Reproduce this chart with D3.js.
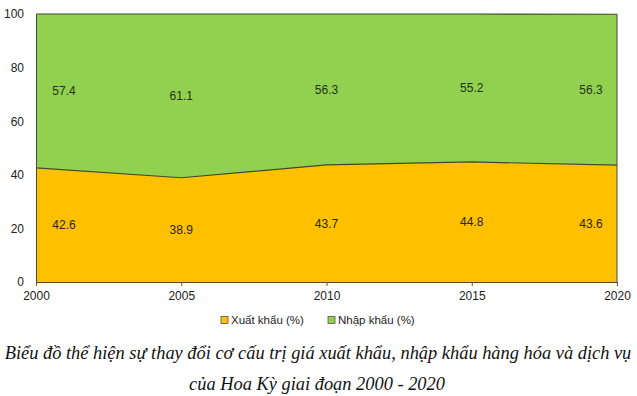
<!DOCTYPE html>
<html>
<head>
<meta charset="utf-8">
<script src="https://cdn.jsdelivr.net/npm/d3@7"></script>
<style>
  body { margin: 0; background: #fff; }
  svg text { font-family: "Liberation Sans", Arial, sans-serif; }
  .caption { font-family: "Liberation Serif", "Times New Roman", serif !important; font-style: italic; font-size: 18.4px; fill: #111; }
</style>
</head>
<body>
<svg id="chart" width="637" height="396"></svg>
<script>
'use strict';
// chart data
const years = [2000, 2005, 2010, 2015, 2020];
const exportShare = [42.6, 38.9, 43.7, 44.8, 43.6];
const importShare = [57.4, 61.1, 56.3, 55.2, 56.3];
const yTicks = [0, 20, 40, 60, 80, 100];
const seriesNames = ['Xuất khẩu (%)', 'Nhập khẩu (%)'];
const colors = ['#FFC000', '#92D050'];

const svg = d3.select('#chart');
const plot = { left: 36, right: 617, top: 14, bottom: 282 };

const x = d3.scaleLinear().domain([2000, 2020]).range([plot.left, plot.right]);
const y = d3.scaleLinear().domain([0, 100]).range([plot.bottom, plot.top]);

const rows = years.map((yr, i) => ({ year: yr, exp: exportShare[i], imp: importShare[i] }));
const stacked = d3.stack().keys(['exp', 'imp'])(rows);

const area = d3.area()
    .x(d => x(d.data.year))
    .y0(d => y(d[0]))
    .y1(d => y(d[1]));

svg.append('g')
    .selectAll('path')
    .data(stacked)
    .enter()
    .append('path')
    .attr('d', area)
    .attr('fill', (d, i) => colors[i]);

// boundary lines (top of each layer)
const topLine = d3.line().x(d => x(d.data.year)).y(d => y(d[1]));
svg.append('g')
    .selectAll('path')
    .data(stacked)
    .enter()
    .append('path')
    .attr('d', topLine)
    .attr('fill', 'none')
    .attr('stroke', '#3d4a2a')
    .attr('stroke-width', 1.2);

// right edge
svg.append('line')
    .attr('x1', plot.right).attr('x2', plot.right)
    .attr('y1', y(0)).attr('y2', y(100))
    .attr('stroke', '#4a4a3a');

// x axis
const xAxis = svg.append('g')
    .attr('transform', 'translate(0,' + plot.bottom + ')')
    .call(d3.axisBottom(x).tickValues(years).tickFormat(d3.format('d')).tickSizeOuter(0).tickSize(4));
xAxis.select('.domain').attr('stroke', '#5a4a20');
xAxis.selectAll('.tick line').attr('stroke', '#555');
xAxis.selectAll('text').attr('font-size', 12).attr('fill', '#222').attr('dy', '0.9em')
    .attr('font-family', '"Liberation Sans", Arial, sans-serif');

// y axis
const yAxis = svg.append('g')
    .attr('transform', 'translate(' + plot.left + ',0)')
    .call(d3.axisLeft(y).tickValues(yTicks).tickSize(0).tickPadding(12));
yAxis.select('.domain').attr('stroke', '#4a4a3a');
yAxis.selectAll('text').attr('font-size', 12).attr('fill', '#222')
    .attr('font-family', '"Liberation Sans", Arial, sans-serif');

// data labels
const labelX = (yr) => yr === 2000 ? x(yr) + 28 : yr === 2020 ? x(yr) - 26 : x(yr);
svg.append('g')
    .selectAll('text')
    .data(rows)
    .enter()
    .append('text')
    .attr('x', d => labelX(d.year))
    .attr('y', d => y(d.exp / 2))
    .attr('dy', '0.35em')
    .attr('text-anchor', 'middle')
    .attr('font-size', 12)
    .attr('fill', '#2a2410')
    .text(d => d.exp.toFixed(1));

svg.append('g')
    .selectAll('text')
    .data(rows)
    .enter()
    .append('text')
    .attr('x', d => labelX(d.year))
    .attr('y', d => y(d.exp + d.imp / 2))
    .attr('dy', '0.35em')
    .attr('text-anchor', 'middle')
    .attr('font-size', 12)
    .attr('fill', '#1e3310')
    .text(d => d.imp.toFixed(1));

// legend
const legendX = [221, 328];
const legend = svg.append('g')
    .selectAll('g')
    .data(seriesNames)
    .enter()
    .append('g')
    .attr('transform', (d, i) => 'translate(' + legendX[i] + ',320)');
legend.append('rect')
    .attr('x', 0).attr('y', -3.5)
    .attr('width', 7).attr('height', 7)
    .attr('fill', (d, i) => colors[i])
    .attr('stroke', '#555').attr('stroke-width', 0.8);
legend.append('text')
    .attr('x', 10).attr('dy', '0.35em')
    .attr('font-size', 11.5)
    .attr('fill', '#222')
    .text(d => d);

// caption
svg.append('text')
    .attr('class', 'caption')
    .attr('x', 318).attr('y', 359)
    .attr('text-anchor', 'middle')
    .text('Biểu đồ thể hiện sự thay đổi cơ cấu trị giá xuất khẩu, nhập khẩu hàng hóa và dịch vụ');
svg.append('text')
    .attr('class', 'caption')
    .attr('x', 317).attr('y', 390)
    .attr('text-anchor', 'middle')
    .text('của Hoa Kỳ giai đoạn 2000 - 2020');
</script>
</body>
</html>
